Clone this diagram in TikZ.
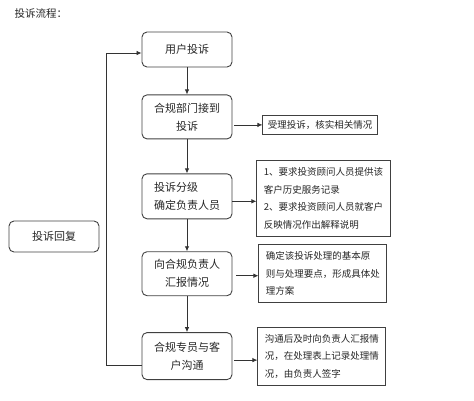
\documentclass[tikz,border=0pt]{standalone}
\usepackage{fontspec}
\setmainfont{Noto Sans CJK SC}
\usetikzlibrary{positioning,arrows.meta}

\tikzset{
    step box/.style={draw=black!75, line width=0.9pt, rounded corners=5pt, minimum width=90pt, align=center, font=\fontsize{11}{18}\selectfont, text=black!85},
    note box/.style={draw=black!75, line width=0.9pt, align=left, inner sep=7pt, font=\fontsize{9.5}{17.5}\selectfont, text=black!85},
    flow/.style={-{Latex[length=5pt,width=4.5pt]}, draw=black!80, line width=0.8pt},
}

\begin{document}
\begin{tikzpicture}[x=1pt, y=1pt, node distance=30pt]

    \useasboundingbox (0,0) rectangle (474,-400);

    \node [anchor=west, font=\fontsize{10.5}{12}\selectfont, text=black!85] (title) at (11,-14) {投诉流程：}; % title

    \node [step box, minimum height=35pt] (complain) at (187,-49.5) {用户投诉}; % user complains
    \node [step box, minimum height=44pt, below=27pt of complain] (receive) {合规部门接到\\投诉}; % received
    \node [step box, minimum height=45pt, align=left, below=34pt of receive] (grade) {投诉分级\\确定负责人员}; % grading
    \node [step box, minimum height=44pt, below=32pt of grade] (report) {向合规负责人\\汇报情况}; % report
    \node [step box, minimum height=47pt, below=36pt of report] (contact) {合规专员与客\\户沟通}; % contact customer

    \node [step box, minimum height=31pt] (reply) at (54,-236.5) {投诉回复}; % reply

    \node [note box, inner sep=5pt, right=30pt of receive, yshift=-8pt] (check) {受理投诉，核实相关情况}; % note 1
    \node [note box, right=24pt of grade, yshift=-2pt] (ask) {1、要求投资顾问人员提供该\\客户历史服务记录\\2、要求投资顾问人员就客户\\反映情况作出解释说明}; % note 2
    \node [note box, right=26pt of report] (plan) {确定该投诉处理的基本原\\则与处理要点，形成具体处\\理方案}; % note 3
    \node [note box, right=25pt of contact] (record) {沟通后及时向负责人汇报情\\况，在处理表上记录处理情\\况，由负责人签字}; % note 4

    \draw [flow] (complain) -- (receive);
    \draw [flow] (receive) -- (grade);
    \draw [flow] (grade) -- (report);
    \draw [flow] (report) -- (contact);

    \draw [flow] (check.west -| receive.east) ++(2,0) -- (check.west);
    \draw [flow] ([yshift=-3pt]ask.west -| grade.east) -- ([yshift=-3pt]ask.west);
    \draw [flow] ([yshift=-2pt]plan.west -| report.east) ++(4,0) -- ([yshift=-2pt]plan.west);
    \draw [flow] ([yshift=-4pt]record.west -| contact.east) ++(2,0) -- ([yshift=-4pt]record.west);

    % loop back to the top
    \draw [flow] ([yshift=-9.5pt]contact.west) -- ++(-35,0) |- ([yshift=-3.5pt]complain.west);

\end{tikzpicture}
\end{document}
